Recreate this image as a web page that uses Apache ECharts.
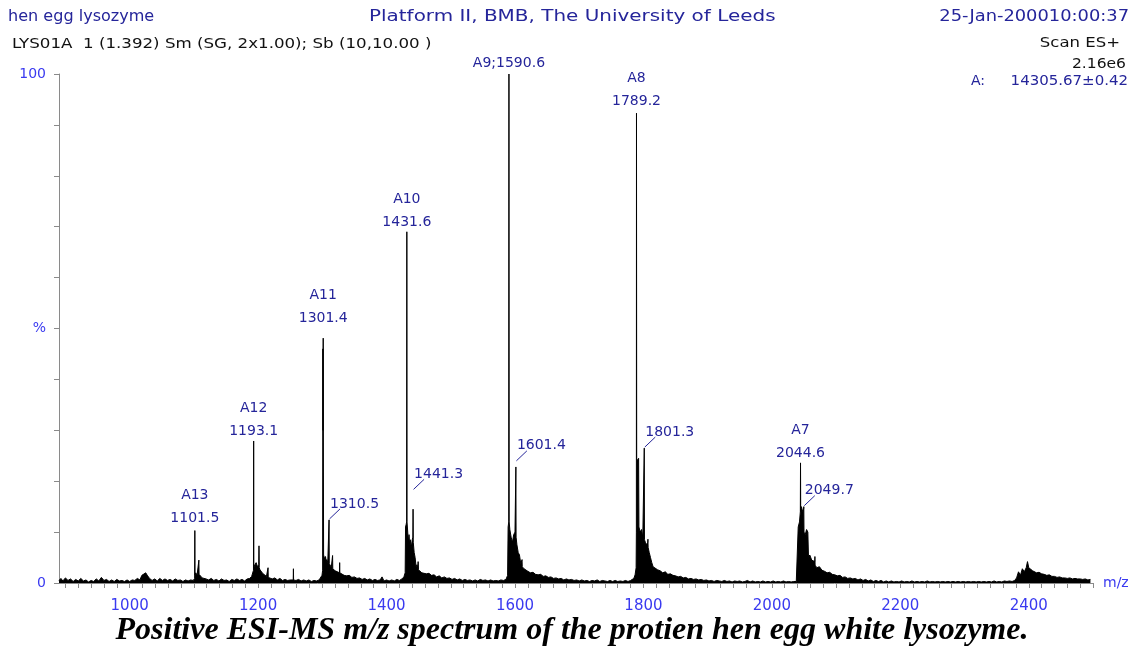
<!DOCTYPE html>
<html>
<head>
<meta charset="utf-8">
<script src="https://cdn.jsdelivr.net/npm/echarts@6/dist/echarts.min.js"></script>
<style>
html,body{margin:0;padding:0;background:#fff;}
#chart{width:1136px;height:649px;}
</style>
</head>
<body>
<div id="chart"></div>
<script>
// ---- data ----
// spectrum: [m/z, relative intensity %]
const spectrum = [
[890,0.5],[893,0.9],[896,0.4],[900,1.0],[904,0.5],[908,0.8],[912,0.3],[916,0.7],[920,0.4],[924,0.9],[928,0.4],[932,0.6],[936,0.2],[940,0.5],[944,0.3],[948,0.8],[952,0.4],[956,1.1],[960,0.5],[964,0.7],[968,0.3],[972,0.6],[976,0.3],[980,0.7],[984,0.4],[988,0.5],[992,0.3],[996,0.6],[1000,0.3],[1004,0.6],[1008,0.5],[1012,0.9],[1016,0.6],[1019,1.5],[1022,1.2],[1025,2.0],[1028,1.4],[1031,0.9],[1035,0.5],[1039,0.8],[1043,0.4],[1047,0.9],[1051,0.5],[1055,0.8],[1059,0.5],[1063,0.7],[1067,0.4],[1071,0.8],[1075,0.5],[1079,0.6],[1083,0.3],[1087,0.6],[1091,0.4],[1095,0.6],[1099,0.5],
[1101.2,0.9],[1101.5,10.3],[1101.8,1.6],[1103,2.0],[1105,1.5],[1107.5,1.8],[1107.8,4.5],[1108.1,1.7],[1110,1.4],[1113,1.0],[1116,1.3],[1119,0.8],[1123,0.6],[1127,0.9],[1131,0.5],[1135,0.7],[1139,0.4],[1143,0.8],[1147,0.5],[1151,0.6],[1155,0.3],[1159,0.7],[1163,0.5],[1167,0.8],[1171,0.5],[1175,0.7],[1179,0.4],[1183,0.8],[1187,0.9],[1190,1.3],[1192.8,2.5],[1193.1,27.9],[1193.4,3.0],[1195,3.6],[1197,4.0],[1199,3.2],[1201,3.6],[1201.4,7.3],[1201.8,3.0],[1203,2.6],[1205,2.3],[1207,1.9],[1210,1.6],[1213,1.3],[1215.2,1.2],[1215.5,3.0],[1215.8,1.1],[1218,1.2],[1222,0.8],[1226,1.0],[1230,0.6],[1234,0.9],[1238,0.5],[1242,0.7],[1246,0.5],[1250,0.6],[1254.7,0.6],[1255,2.8],[1255.3,0.6],[1259,0.5],[1263,0.7],[1267,0.4],[1271,0.6],[1275,0.4],[1279,0.6],[1283,0.3],[1287,0.5],[1291,0.4],[1295,0.6],[1298,0.8],
[1299.5,1.5],[1300.5,2.5],[1300.8,46],[1301.1,30],[1301.4,48.1],[1301.7,22],[1302,5.5],[1303,5.8],[1304,4.6],[1305,5.2],[1306,4.2],[1307,4.6],[1308.5,4.0],[1310.2,4.2],[1310.5,12.4],[1310.8,3.8],[1312,3.6],[1314,3.1],[1315.7,3.0],[1316,5.4],[1316.3,2.8],[1318,2.6],[1320,2.4],[1323,2.2],[1326.7,2.0],[1327,4.0],[1327.3,2.0],[1330,1.8],[1334,1.5],[1338,1.4],[1342,1.5],[1346,1.1],[1350,1.2],[1354,0.9],[1358,1.0],[1362,0.7],[1366,0.9],[1370,0.6],[1374,0.8],[1378,0.5],[1382,0.7],[1386,0.5],[1390,0.6],[1393,1.2],[1396,0.4],[1400,0.6],[1404,0.4],[1408,0.6],[1412,0.4],[1416,0.7],[1420,0.5],[1424,0.8],[1427,1.2],[1429,2.0],
[1429.6,11],[1430.5,11.5],[1431.3,12],[1431.6,69],[1431.9,12],[1433,10],[1434,8],[1435,9.5],[1436,7.5],[1437,8.5],[1438.5,7],[1440,8.5],[1441,9],[1441.3,14.5],[1441.6,8],[1443,6],[1444.5,5],[1446,3.2],[1447.5,3.6],[1448.8,2.8],[1449.2,4.2],[1449.6,2.6],[1452,2.3],[1455,2.0],[1458,2.3],[1462,1.8],[1466,1.9],[1470,1.5],[1474,1.6],[1478,1.2],[1482,1.4],[1486,1.0],[1490,1.2],[1494,0.9],[1498,1.0],[1502,0.7],[1506,0.9],[1510,0.6],[1514,0.8],[1518,0.5],[1522,0.7],[1526,0.5],[1530,0.6],[1534,0.4],[1538,0.6],[1542,0.4],[1546,0.7],[1550,0.5],[1554,0.6],[1558,0.4],[1562,0.6],[1566,0.4],[1570,0.5],[1574,0.4],[1578,0.6],[1582,0.5],[1586,0.7],[1588.5,1.5],
[1589.3,11],[1590.3,12],[1590.6,100],[1590.9,12],[1592,10.5],[1594,9],[1596,8],[1598,9.5],[1600,10],[1601.1,10],[1601.4,22.8],[1601.7,9],[1603,7.5],[1605,6],[1607,5.5],[1609,3.8],[1610.7,3.5],[1611,4.6],[1611.3,3.2],[1614,2.8],[1617,2.5],[1620,2.3],[1624,2.0],[1628,2.1],[1632,1.7],[1636,1.6],[1640,1.7],[1644,1.3],[1648,1.4],[1652,1.1],[1656,1.2],[1660,0.9],[1664,1.0],[1668,0.8],[1672,0.9],[1676,0.6],[1680,0.8],[1684,0.6],[1688,0.7],[1692,0.5],[1696,0.6],[1700,0.4],[1704,0.6],[1708,0.4],[1712,0.5],[1716,0.3],[1720,0.5],[1724,0.4],[1728,0.6],[1732,0.3],[1736,0.5],[1740,0.4],[1744,0.3],[1748,0.5],[1752,0.3],[1756,0.5],[1760,0.3],[1764,0.4],[1768,0.3],[1772,0.5],[1776,0.3],[1780,0.5],[1783,0.4],[1785,0.9],[1787,1.6],[1788.6,3],
[1789,10],[1789.2,92.3],[1789.5,24.5],[1791,24],[1792.5,24.5],[1793,11],[1795,10],[1797,10.5],[1799,9],[1801,9],[1801.3,26.5],[1801.6,8.5],[1803,8],[1805,7.5],[1806.7,8],[1807,8.6],[1807.3,7],[1809,6],[1811,5],[1813,4],[1815,3.2],[1818,2.9],[1822,2.6],[1826,2.4],[1830,2.0],[1834,2.2],[1838,1.7],[1842,1.8],[1846,1.5],[1850,1.4],[1854,1.2],[1858,1.3],[1862,1.0],[1866,1.1],[1870,0.8],[1874,0.9],[1878,0.7],[1882,0.8],[1886,0.6],[1890,0.7],[1894,0.5],[1898,0.6],[1902,0.4],[1906,0.5],[1910,0.3],[1914,0.5],[1918,0.4],[1922,0.3],[1926,0.5],[1930,0.3],[1934,0.4],[1938,0.2],[1942,0.4],[1946,0.3],[1950,0.4],[1954,0.2],[1958,0.3],[1962,0.5],[1966,0.2],[1970,0.4],[1974,0.2],[1978,0.3],[1982,0.2],[1986,0.4],[1990,0.2],[1994,0.3],[1998,0.2],[2002,0.4],[2006,0.2],[2010,0.3],[2014,0.2],[2018,0.4],[2022,0.2],[2026,0.3],[2030,0.2],[2034,0.3],[2038,0.3],[2040,0.6],
[2041,11],[2043,12],[2044.3,14],[2044.6,23.6],[2044.9,14],[2046,15],[2048,14],[2049.4,14.5],[2049.7,15],[2050,10],[2052,9.5],[2054,10.5],[2056,10],[2057,5],[2059,5.5],[2062,4.5],[2064,4.8],[2066.7,4.2],[2067,5.2],[2067.3,3.5],[2070,3.0],[2074,3.2],[2078,2.5],[2082,2.3],[2086,2.0],[2090,2.1],[2094,1.7],[2098,1.6],[2102,1.4],[2106,1.5],[2110,1.1],[2114,1.2],[2118,0.9],[2122,1.0],[2126,0.8],[2130,0.9],[2134,0.6],[2138,0.8],[2142,0.5],[2146,0.7],[2150,0.4],[2154,0.6],[2158,0.3],[2162,0.5],[2166,0.3],[2170,0.5],[2174,0.2],[2178,0.4],[2182,0.2],[2186,0.4],[2190,0.2],[2194,0.3],[2198,0.2],[2202,0.4],[2206,0.2],[2210,0.3],[2214,0.2],[2218,0.4],[2222,0.2],[2226,0.3],[2230,0.2],[2234,0.3],[2238,0.2],[2242,0.4],[2246,0.2],[2250,0.3],[2254,0.2],[2258,0.3],[2262,0.2],[2266,0.3],[2270,0.2],[2274,0.3],[2278,0.2],[2282,0.3],[2286,0.2],[2290,0.3],[2294,0.2],[2298,0.3],[2302,0.2],[2306,0.3],[2310,0.2],[2314,0.3],[2318,0.2],[2322,0.3],[2326,0.2],[2330,0.3],[2334,0.2],[2338,0.3],[2342,0.2],[2346,0.4],[2350,0.2],[2354,0.3],[2358,0.2],[2362,0.4],[2366,0.3],[2370,0.4],[2374,0.3],[2378,0.5],
[2381,1.0],[2384,2.2],[2387,1.5],[2390,2.8],[2393,2.2],[2396,3.0],[2398,4.2],[2400,3.0],[2403,3.3],[2406,2.4],[2409,2.6],[2412,2.0],[2416,2.1],[2420,1.8],[2424,1.7],[2428,1.5],[2432,1.6],[2436,1.3],[2440,1.3],[2444,1.1],[2448,1.2],[2452,1.0],[2456,1.0],[2460,0.9],[2464,1.0],[2468,0.8],[2472,0.9],[2476,0.8],[2480,0.8],[2484,0.7],[2488,0.8],[2492,0.6],[2496,0.7]
];

// peak annotations (anchor m/z, anchor height %, text, style)
const peakMz   = [1101.5, 1193.1, 1301.4, 1310.5, 1431.6, 1441.3, 1590.6, 1601.4, 1789.2, 1801.3, 2044.6, 2049.7];
const peakPct  = [10.6, 27.7, 49.9, 12.4, 68.8, 18.2, 100, 23.8, 92.5, 26.5, 23.4, 15.0];
const peakText = ['A13\n1101.5', 'A12\n1193.1', 'A11\n1301.4', '1310.5', 'A10\n1431.6', '1441.3',
                  'A9;1590.6', '1601.4', 'A8\n1789.2', '1801.3', 'A7\n2044.6', '2049.7'];
const peakKind = ['top','top','top','leader','top','leader','top','leader','top','leader','top','leader'];

// axis ticks / labels
const xTickValues = [];
for (let v = 900; v <= 2500; v += 20) xTickValues.push(v);
const xLabelValues = [1000, 1200, 1400, 1600, 1800, 2000, 2200, 2400];
const yLabels = {0: '0', 50: '%', 100: '100'};

// header texts
const headerLeft = 'hen egg lysozyme';
const headerCenter = 'Platform II, BMB, The University of Leeds';
const headerRight = '25-Jan-200010:00:37';
const subLeft = 'LYS01A  1 (1.392) Sm (SG, 2x1.00); Sb (10,10.00 )';
const scanText = 'Scan ES+';
const tic = '2.16e6';
const massLabel = 'A:';
const massValue = '14305.67\u00b10.42';
const caption = 'Positive ESI-MS m/z spectrum of the protien hen egg white lysozyme.';

// ---- chart ----
const NAVY = '#25259a';
const AXBLUE = '#3a3af0';
const FONT = '"DejaVu Sans", "Liberation Sans", sans-serif';

const chart = echarts.init(document.getElementById('chart'), null, {renderer: 'canvas'});

function renderAnno(params, api) {
  const i = params.dataIndex;
  const p = api.coord([api.value(0), api.value(1)]);
  if (peakKind[i] === 'top') {
    return {
      type: 'text', x: p[0], y: p[1] + 1,
      style: {text: peakText[i], fill: NAVY, font: '14px ' + FONT,
              align: 'center', verticalAlign: 'bottom', lineHeight: 23}
    };
  }
  return {
    type: 'group',
    children: [
      {type: 'line', shape: {x1: p[0] + 0.5, y1: p[1] - 1, x2: p[0] + 11, y2: p[1] - 11},
       style: {stroke: NAVY, lineWidth: 1}},
      {type: 'text', x: p[0] + 1, y: p[1] - 9,
       style: {text: peakText[i], fill: NAVY, font: '14px ' + FONT,
               align: 'left', verticalAlign: 'bottom'}}
    ]
  };
}

function hdr(text, x, y, size, align, scaleX, color) {
  return {type: 'text', x: x, y: y, scaleX: scaleX,
          style: {text: text, fill: color, font: size + 'px ' + FONT, align: align, verticalAlign: 'middle'}};
}

const option = {
  animation: false,
  backgroundColor: '#fff',
  grid: {left: 59, right: 43, top: 74, bottom: 66, containLabel: false, outerBoundsMode: 'none'},
  xAxis: {
    type: 'value', min: 890, max: 2500,
    name: 'm/z', nameLocation: 'end', nameGap: 10,
    nameTextStyle: {color: AXBLUE, fontSize: 14, fontFamily: FONT, verticalAlign: 'middle'},
    splitLine: {show: false},
    axisLine: {show: true, onZero: false, lineStyle: {color: '#8a8a8a', width: 1}},
    axisTick: {show: true, customValues: xTickValues, length: 5, lineStyle: {color: '#8a8a8a'}},
    axisLabel: {customValues: xLabelValues, color: AXBLUE, fontSize: 15, fontFamily: FONT, margin: 16,
                formatter: v => String(v)}
  },
  yAxis: {
    type: 'value', min: 0, max: 100, interval: 10,
    splitLine: {show: false},
    axisLine: {show: true, lineStyle: {color: '#8a8a8a', width: 1}},
    axisTick: {show: true, length: 5, lineStyle: {color: '#8a8a8a'}},
    axisLabel: {
      color: AXBLUE, fontSize: 14, fontFamily: FONT, margin: 13,
      formatter: v => (yLabels[v] !== undefined ? yLabels[v] : '')
    }
  },
  series: [
    {
      type: 'line', data: spectrum, symbol: 'none', showSymbol: false,
      sampling: null, clip: true,
      lineStyle: {color: '#000', width: 1},
      areaStyle: {color: '#000', opacity: 1},
      z: 3
    },
    {
      type: 'custom', renderItem: renderAnno, clip: false, z: 4,
      data: peakMz.map((m, i) => [m, peakPct[i]])
    }
  ],
  graphic: [
    hdr(headerLeft, 8, 17, 15, 'left', 1.07, NAVY),
    hdr(headerCenter, 369, 17, 15, 'left', 1.33, NAVY),
    hdr(headerRight, 1129, 17, 15, 'right', 1.19, NAVY),
    hdr(subLeft, 12, 44, 14, 'left', 1.19, '#111'),
    hdr(scanText, 1120, 43, 14, 'right', 1.18, '#111'),
    hdr(tic, 1126, 64, 14, 'right', 1.11, '#111'),
    hdr(massLabel, 971, 81, 14, 'left', 1.0, NAVY),
    hdr(massValue, 1128, 81, 14, 'right', 1.07, NAVY),
    {type: 'text', x: 572, y: 631,
     style: {text: caption, fill: '#000', align: 'center', verticalAlign: 'middle',
             font: 'italic bold 32px "Liberation Serif", "DejaVu Serif", serif'}}
  ]
};
chart.setOption(option);
</script>
</body>
</html>
